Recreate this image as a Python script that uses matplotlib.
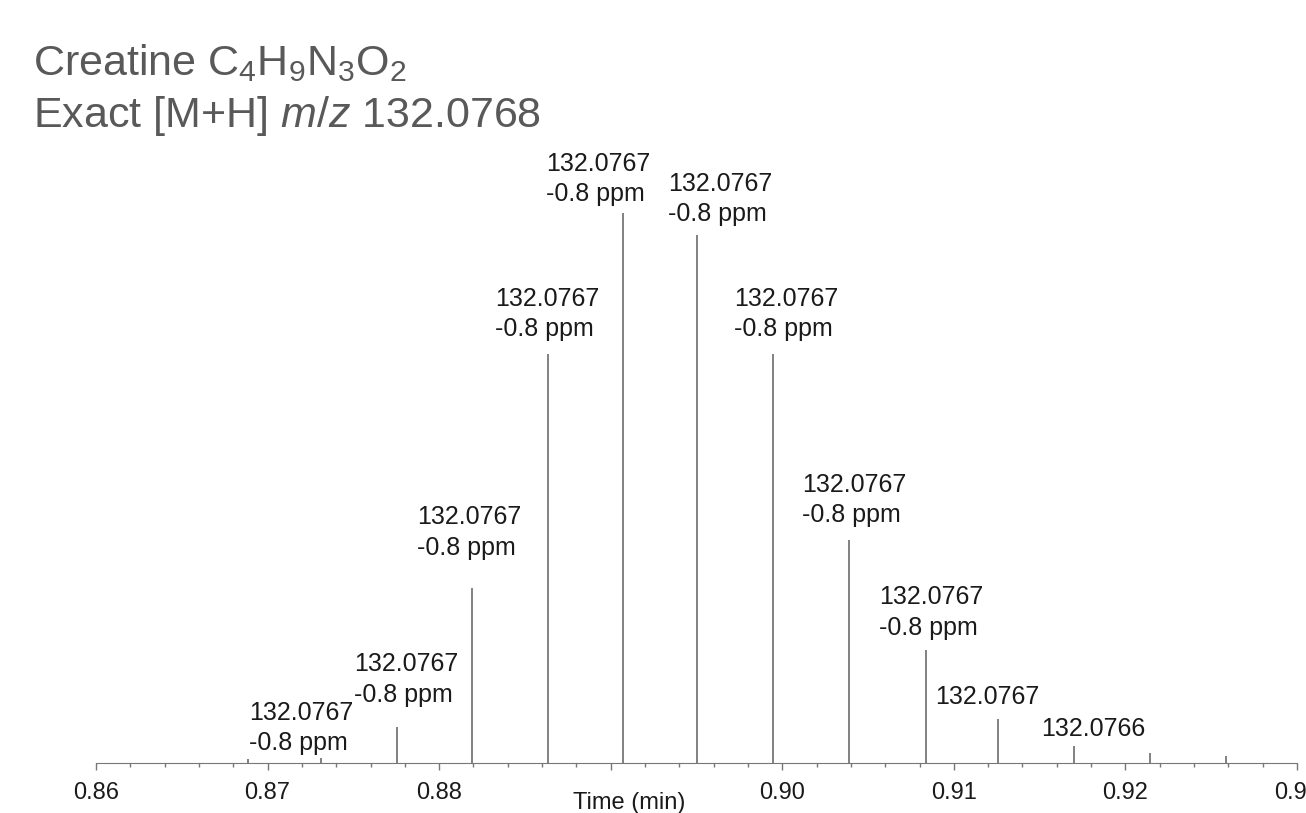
import matplotlib
matplotlib.use("Agg")
import matplotlib.pyplot as plt
from matplotlib.ticker import MultipleLocator, FuncFormatter

plt.rcParams["font.family"] = ["Liberation Sans", "DejaVu Sans"]
plt.rcParams["mathtext.fontset"] = "custom"
plt.rcParams["mathtext.rm"] = "Liberation Sans"
plt.rcParams["mathtext.it"] = "Liberation Sans:italic"

# retention time (min) and relative intensity (%) of each scan
times = [0.86886, 0.87311, 0.87754, 0.88194, 0.88634, 0.89071, 0.89503,
         0.89946, 0.90389, 0.90838, 0.91257, 0.91700, 0.92143, 0.92586]
intensity = [0.7, 0.9, 6.6, 31.9, 74.3, 100.0, 96.0,
             74.3, 40.5, 20.6, 8.0, 3.1, 1.8, 1.3]
mz_label = [None, "132.0767", "132.0767", "132.0767", "132.0767", "132.0767",
            "132.0767", "132.0767", "132.0767", "132.0767", "132.0767",
            "132.0766", None, None]
ppm_label = [None, "-0.8 ppm", "-0.8 ppm", "-0.8 ppm", "-0.8 ppm", "-0.8 ppm",
             "-0.8 ppm", "-0.8 ppm", "-0.8 ppm", "-0.8 ppm", None, None, None, None]
hidden_tick = 0.89  # label hidden under the axis title

# label placement (pixels from peak top), picked so labels do not collide
lab_dx = [0, -20, 9, -3, -1, -25, 23, 13, 5, 5, -11, 19, 0, 0]
lab_gap = [0, 8, 25, 33, 18, 12, 14, 18, 18, 15, 15, 10, 0, 0]

W, H = 1306, 813
fig = plt.figure(figsize=(W / 100, H / 100), dpi=100)
ax = fig.add_axes([96 / W, 50 / H, 1201 / W, 550 / H])

grey = "#777777"
ax.vlines(times, 0, intensity, color=grey, lw=1.3)

for t, y, mz, ppm, dx, gap in zip(times, intensity, mz_label, ppm_label, lab_dx, lab_gap):
    if mz is None:
        continue
    txt = mz if ppm is None else mz + "\n" + ppm
    ax.annotate(txt, xy=(t, y), xytext=(dx, gap - 5), textcoords="offset pixels",
                ha="center", va="bottom", multialignment="left", linespacing=1.33,
                fontsize=18, color="#1a1a1a", annotation_clip=False)


def tick_fmt(v, pos):
    if abs(v - hidden_tick) < 1e-6:
        return ""
    return f"{v:.2f}"


ax.set_xlim(0.86, 0.93)
ax.set_ylim(0, 100)
for s in ["top", "right", "left"]:
    ax.spines[s].set_visible(False)
ax.spines["bottom"].set_color(grey)
ax.set_yticks([])
ax.xaxis.set_major_locator(MultipleLocator(0.01))
ax.xaxis.set_minor_locator(MultipleLocator(0.002))
ax.xaxis.set_major_formatter(FuncFormatter(tick_fmt))
ax.tick_params(axis="x", which="major", length=5, width=1, color=grey,
               labelsize=17, labelcolor="#1a1a1a", pad=9)
ax.tick_params(axis="x", which="minor", length=3, width=1, color=grey)
ax.set_xlabel("Time (min)", fontsize=17, color="#1a1a1a", labelpad=2)
ax.xaxis.set_label_coords((629 - 96) / 1201, -0.052)

title_c = "#595959"
fig.text(33 / W, 1 - 75 / H, r"Creatine C$_4$H$_9$N$_3$O$_2$", fontsize=31,
         color=title_c, va="baseline", ha="left")
fig.text(33 / W, 1 - 127 / H, r"Exact [M+H] $m/z$ 132.0768", fontsize=31,
         color=title_c, va="baseline", ha="left")

fig.savefig("out.png", dpi=100)
